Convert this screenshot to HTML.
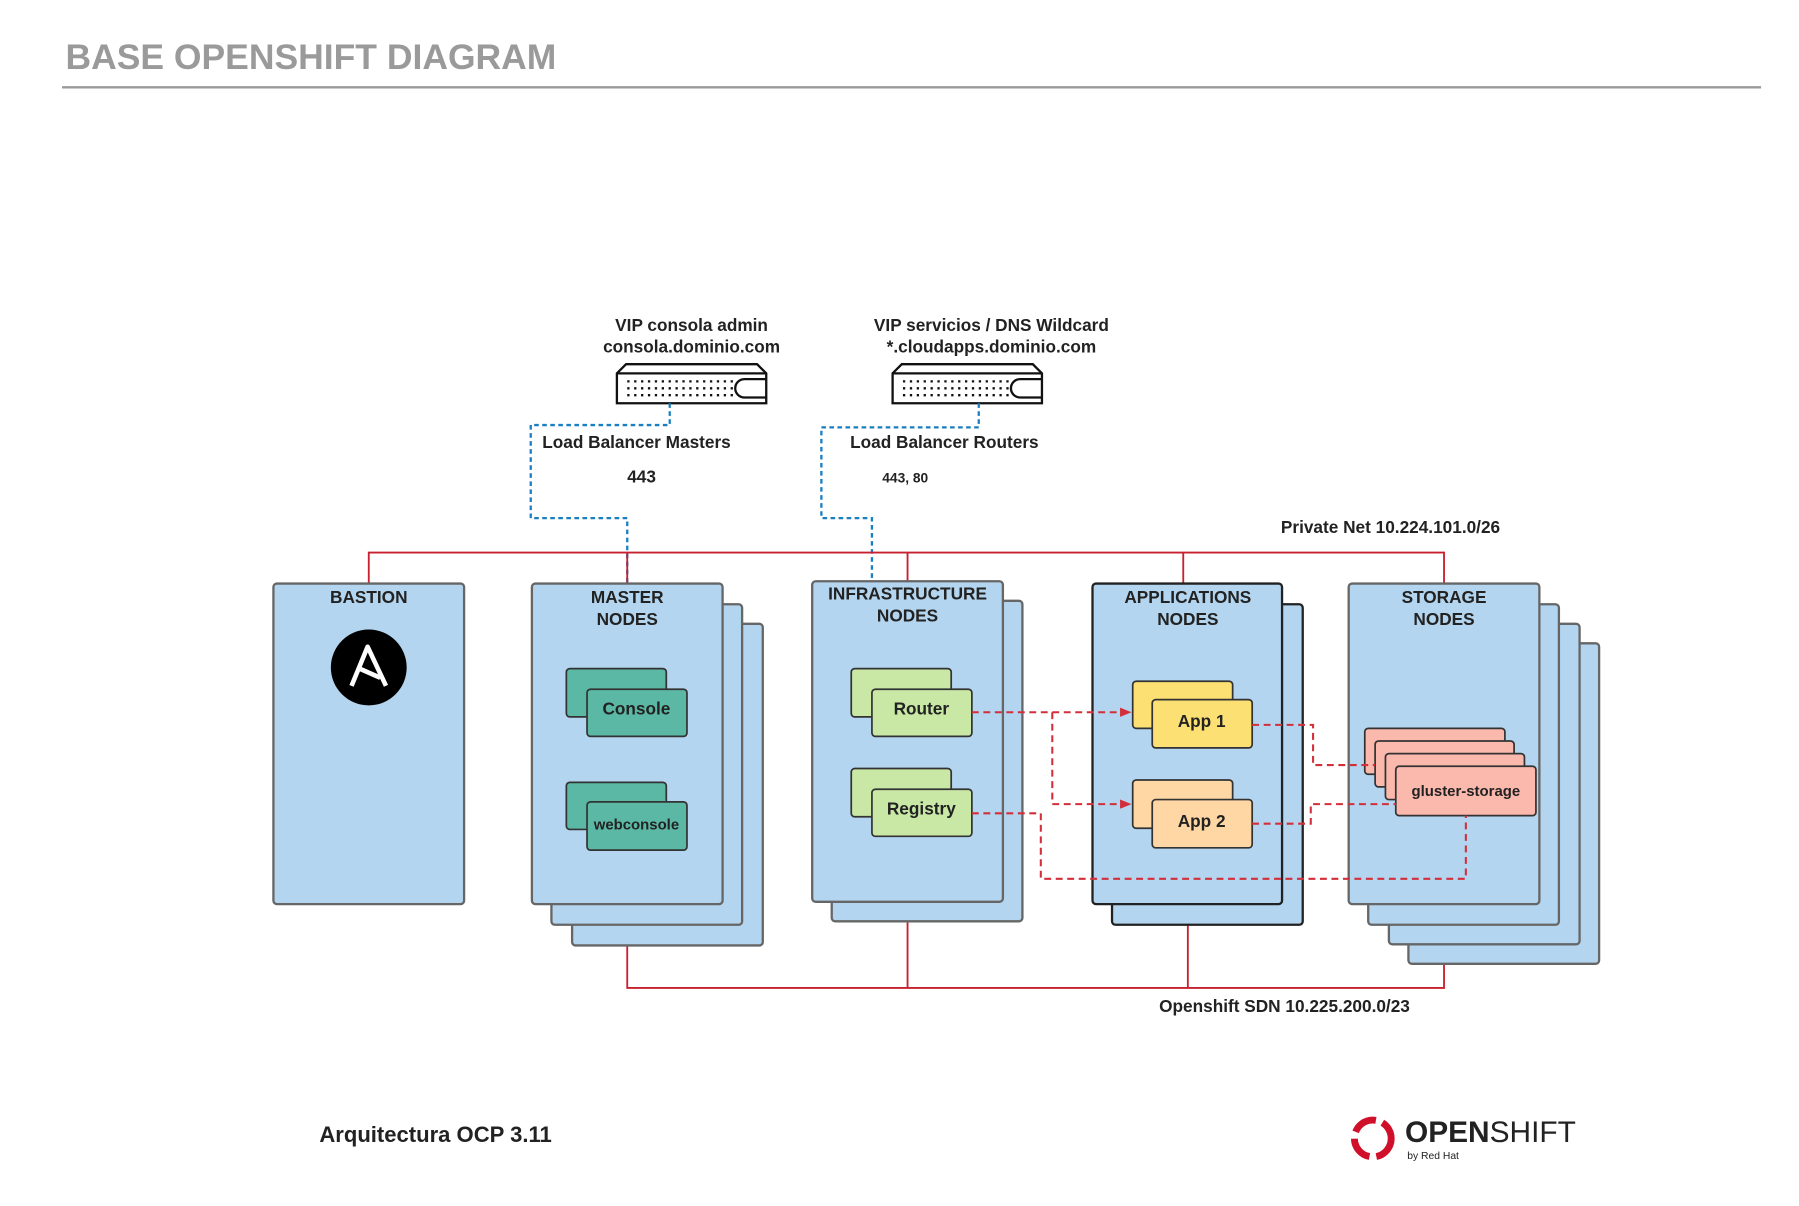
<!DOCTYPE html>
<html><head><meta charset="utf-8"><style>
html,body{margin:0;padding:0;background:#fff;overflow:hidden}
#w{width:1566px;height:1050px;transform:scale(1.14879);transform-origin:0 0;position:relative}
</style></head><body><div id="w">
<svg width="1566" height="1050" xmlns="http://www.w3.org/2000/svg" font-family="Liberation Sans, sans-serif">
<defs><marker id="ar" markerWidth="10" markerHeight="8" refX="9" refY="4" orient="auto" markerUnits="userSpaceOnUse"><path d="M0,0L10,4L0,8z" fill="#d32f3a"/></marker></defs>
<text x="57" y="60" font-size="30.9" font-weight="bold" fill="#9a9a9a">BASE OPENSHIFT DIAGRAM</text>
<line x1="54" y1="76" x2="1533" y2="76" stroke="#999" stroke-width="2"/>
<g font-size="15" font-weight="bold" fill="#222" text-anchor="middle">
<text x="602" y="288">VIP consola admin</text><text x="602" y="307">consola.dominio.com</text>
<text x="863" y="288">VIP servicios / DNS Wildcard</text><text x="863" y="307">*.cloudapps.dominio.com</text>
</g>
<g fill="#fff" stroke="#111" stroke-width="2">
<path d="M537,351V325L545,317H659L667,325V351Z"/><line x1="537" y1="325" x2="667" y2="325"/>
<path d="M648,330H667M648,346H667M648,330a8,8 0 0 0 0,16" fill="none"/>
</g>
<g stroke="#111" stroke-width="2" stroke-dasharray="2,4" fill="none">
<line x1="546" y1="332" x2="642" y2="332"/><line x1="546" y1="338" x2="642" y2="338"/><line x1="546" y1="344" x2="642" y2="344"/>
</g>
<g fill="#fff" stroke="#111" stroke-width="2">
<path d="M777,351V325L785,317H899L907,325V351Z"/><line x1="777" y1="325" x2="907" y2="325"/>
<path d="M888,330H907M888,346H907M888,330a8,8 0 0 0 0,16" fill="none"/>
</g>
<g stroke="#111" stroke-width="2" stroke-dasharray="2,4" fill="none">
<line x1="786" y1="332" x2="882" y2="332"/><line x1="786" y1="338" x2="882" y2="338"/><line x1="786" y1="344" x2="882" y2="344"/>
</g>
<g stroke="#1a7fc1" stroke-width="2" stroke-dasharray="4,3" fill="none">
<path d="M583,351V370H462V451H546V508"/><path d="M852,351V372H715V451H759V506"/>
</g>
<g font-size="15" font-weight="bold" fill="#222">
<text x="472" y="390">Load Balancer Masters</text><text x="546" y="420">443</text>
<text x="740" y="390">Load Balancer Routers</text><text x="768" y="420" font-size="12">443, 80</text>
<text x="1115" y="464">Private Net 10.224.101.0/26</text>
<text x="1009" y="881">Openshift SDN 10.225.200.0/23</text>
</g>
<g stroke="#c8202f" stroke-width="1.6" fill="none">
<path d="M321,508V481H1257V508M546,481V508M790,481V506M1030,481V508"/>
<path d="M546,823V860H1257V839M790,785V860M1034,805V860"/>
</g>
<g fill="#b3d5ef" stroke="#666" stroke-width="2">
<rect x="238" y="508" width="166" height="279" rx="3"/>
<rect x="498" y="543" width="166" height="280" rx="3"/><rect x="480" y="526" width="166" height="279" rx="3"/><rect x="463" y="508" width="166" height="279" rx="3"/>
<rect x="724" y="523" width="166" height="279" rx="3"/><rect x="707" y="506" width="166" height="279" rx="3"/>
<rect x="968" y="526" width="166" height="279" rx="3" stroke="#222"/><rect x="951" y="508" width="165" height="279" rx="3" stroke="#222"/>
<rect x="1226" y="560" width="166" height="279" rx="3"/><rect x="1209" y="543" width="166" height="279" rx="3"/><rect x="1191" y="526" width="166" height="279" rx="3"/><rect x="1174" y="508" width="166" height="279" rx="3"/>
</g>
<g font-size="15" font-weight="bold" fill="#222" text-anchor="middle">
<text x="321" y="525">BASTION</text>
<text x="546" y="525">MASTER</text><text x="546" y="544">NODES</text>
<text x="790" y="522">INFRASTRUCTURE</text><text x="790" y="541">NODES</text>
<text x="1034" y="525">APPLICATIONS</text><text x="1034" y="544">NODES</text>
<text x="1257" y="525">STORAGE</text><text x="1257" y="544">NODES</text>
</g>
<circle cx="321" cy="581" r="33" fill="#000"/>
<path d="M306,597L320,563L336,597M313,582L331,590" stroke="#fff" stroke-width="4" fill="none" stroke-linejoin="round"/>
<g stroke="#333" stroke-width="1.5">
<rect x="493" y="582" width="87" height="42" rx="3" fill="#5bb8a5"/><rect x="511" y="600" width="87" height="41" rx="3" fill="#5bb8a5"/>
<rect x="493" y="681" width="87" height="41" rx="3" fill="#5bb8a5"/><rect x="511" y="698" width="87" height="42" rx="3" fill="#5bb8a5"/>
<rect x="741" y="582" width="87" height="42" rx="3" fill="#c9e8a6"/><rect x="759" y="600" width="87" height="41" rx="3" fill="#c9e8a6"/>
<rect x="741" y="669" width="87" height="42" rx="3" fill="#c9e8a6"/><rect x="759" y="687" width="87" height="41" rx="3" fill="#c9e8a6"/>
<rect x="986" y="593" width="87" height="41" rx="3" fill="#fde073"/><rect x="1003" y="609" width="87" height="42" rx="3" fill="#fde073"/>
<rect x="986" y="679" width="87" height="42" rx="3" fill="#fed7a4"/><rect x="1003" y="696" width="87" height="42" rx="3" fill="#fed7a4"/>
<rect x="1188" y="634" width="122" height="40" rx="3" fill="#fbb8ad"/><rect x="1197" y="645" width="121" height="40" rx="3" fill="#fbb8ad"/>
<rect x="1206" y="656" width="121" height="40" rx="3" fill="#fbb8ad"/><rect x="1215" y="667" width="122" height="43" rx="3" fill="#fbb8ad"/>
</g>
<g font-size="15" font-weight="bold" fill="#222" text-anchor="middle">
<text x="554" y="622">Console</text><text x="554" y="722" font-size="13">webconsole</text>
<text x="802" y="622">Router</text><text x="802" y="709">Registry</text>
<text x="1046" y="633">App 1</text><text x="1046" y="720">App 2</text>
<text x="1276" y="693" font-size="13">gluster-storage</text>
</g>
<g stroke="#d32f3a" stroke-width="1.8" stroke-dasharray="6,4" fill="none">
<path d="M846,620H984" marker-end="url(#ar)"/>
<path d="M916,620V700H984" marker-end="url(#ar)"/>
<path d="M1090,631H1143V666H1197"/>
<path d="M1090,717H1141V700H1215"/>
<path d="M846,708H906V765H1276V710"/>
</g>
<text x="278" y="994" font-size="19.2" font-weight="bold" fill="#222">Arquitectura OCP 3.11</text>
<circle cx="1195" cy="991" r="16" fill="none" stroke="#d0102a" stroke-width="6" stroke-dasharray="22,6"/>
<text x="1223" y="994" font-size="26" font-weight="bold" fill="#222">OPEN<tspan font-weight="normal">SHIFT</tspan></text>
<text x="1225" y="1009" font-size="9" fill="#222">by Red Hat</text>
</svg></div></body></html>
